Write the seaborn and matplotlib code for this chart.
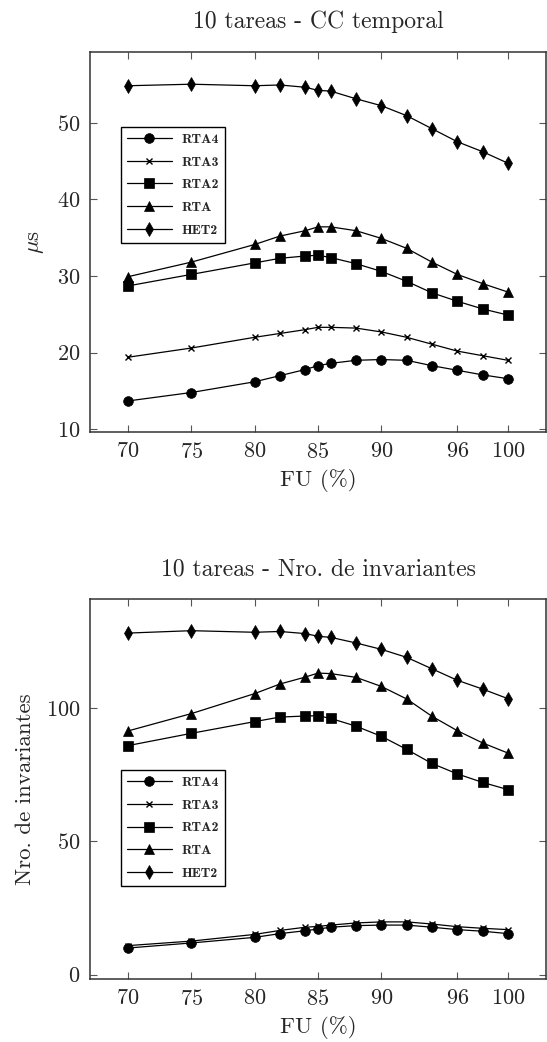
import matplotlib
matplotlib.use("Agg")
import matplotlib.pyplot as plt
import seaborn as sns
import pandas as pd

# Utilization factor (x axis)
fu = [70, 75, 80, 82, 84, 85, 86, 88, 90, 92, 94, 96, 98, 100]
fu_ticks = [70, 75, 80, 85, 90, 96, 100]

series_names = ["RTA4", "RTA3", "RTA2", "RTA", "HET2"]

# 10 tareas - CC temporal (microseconds)
cc_rta4 = [13.7, 14.8, 16.2, 17.0, 17.8, 18.3, 18.6, 19.0, 19.1, 19.0, 18.3, 17.7, 17.1, 16.6]
cc_rta3 = [19.4, 20.6, 22.0, 22.5, 23.0, 23.3, 23.3, 23.2, 22.7, 22.0, 21.1, 20.2, 19.6, 19.0]
cc_rta2 = [28.7, 30.2, 31.7, 32.3, 32.6, 32.7, 32.4, 31.6, 30.6, 29.3, 27.8, 26.7, 25.7, 24.9]
cc_rta = [29.9, 31.8, 34.1, 35.2, 35.9, 36.4, 36.4, 35.9, 34.9, 33.6, 31.8, 30.2, 29.0, 27.9]
cc_het2 = [54.8, 55.0, 54.8, 54.9, 54.6, 54.2, 54.1, 53.1, 52.2, 50.9, 49.2, 47.5, 46.2, 44.7]

# 10 tareas - Nro. de invariantes
inv_rta4 = [10.0, 11.9, 14.0, 15.4, 16.5, 17.1, 17.8, 18.4, 18.6, 18.6, 17.8, 16.9, 16.3, 15.4]
inv_rta3 = [10.9, 12.6, 15.1, 16.6, 17.8, 18.1, 18.6, 19.4, 19.8, 19.8, 19.0, 18.0, 17.4, 16.9]
inv_rta2 = [85.9, 90.5, 94.9, 96.6, 97.0, 97.1, 96.1, 93.2, 89.4, 84.5, 79.2, 75.3, 72.1, 69.4]
inv_rta = [91.4, 97.9, 105.4, 109.0, 111.6, 113.1, 112.9, 111.5, 108.1, 103.4, 96.9, 91.5, 86.9, 83.1]
inv_het2 = [128.1, 129.0, 128.4, 128.7, 127.9, 126.9, 126.5, 124.4, 122.0, 119.0, 114.7, 110.4, 107.1, 103.5]

markers = {"RTA4": ("o", 7), "RTA3": ("x", 4.5), "RTA2": ("s", 7),
           "RTA": ("^", 6.5), "HET2": ("d", 7)}

sns.set_style("ticks")
plt.rcParams["font.family"] = ["cmr10", "DejaVu Serif"]
plt.rcParams["mathtext.fontset"] = "cm"
plt.rcParams["axes.formatter.use_mathtext"] = True
plt.rcParams["axes.unicode_minus"] = False


def long_table(values):
    rows = []
    for name, vals in zip(series_names, values):
        for x, y in zip(fu, vals):
            rows.append({"FU": x, "valor": y, "serie": name})
    return pd.DataFrame(rows)


def draw_panel(ax, df, title, ylabel, ylim, yticks, legend_y):
    for name in series_names:
        sub = df[df["serie"] == name]
        mk, ms = markers[name]
        sns.lineplot(data=sub, x="FU", y="valor", ax=ax, color="black",
                     marker=mk, markersize=ms, markeredgewidth=1.0 if mk == "x" else 0.5,
                     markeredgecolor="black", linewidth=0.9, label=name)
    ax.set_xlim(67, 103)
    ax.set_ylim(*ylim)
    ax.set_xticks(fu_ticks)
    ax.set_yticks(yticks)
    ax.tick_params(direction="in", length=5, width=0.8, top=True, right=True,
                   labelsize=16, pad=7, color="#555555")
    for sp in ax.spines.values():
        sp.set_visible(True)
        sp.set_linewidth(1.1)
        sp.set_color("#333333")
    ax.set_title(title, fontsize=17, pad=17)
    ax.set_xlabel("FU (%)", fontsize=16.5, labelpad=5)
    ax.set_ylabel(ylabel, fontsize=16.5, labelpad=8)
    leg = ax.legend(loc="upper left", bbox_to_anchor=(0.068, legend_y), borderaxespad=0,
                    fancybox=False, framealpha=1, edgecolor="black",
                    prop={"family": "cmb10", "size": 10}, handlelength=3.2,
                    handletextpad=0.7, labelspacing=0.72, borderpad=0.45)
    leg.get_frame().set_linewidth(1.0)


fig = plt.figure(figsize=(5.47, 10.42), dpi=100)
ax1 = fig.add_axes([0.1645, 0.5854, 0.8336, 0.3647])
ax2 = fig.add_axes([0.1645, 0.0605, 0.8336, 0.3647])

draw_panel(ax1, long_table([cc_rta4, cc_rta3, cc_rta2, cc_rta, cc_het2]),
           "10 tareas - CC temporal", r"$\mu$s", (9.65, 59.2), [10, 20, 30, 40, 50], 0.803)
draw_panel(ax2, long_table([inv_rta4, inv_rta3, inv_rta2, inv_rta, inv_het2]),
           "10 tareas - Nro. de invariantes", "Nro. de invariantes", (-1.6, 140.9), [0, 50, 100], 0.55)

fig.savefig("out.png", dpi=100)
